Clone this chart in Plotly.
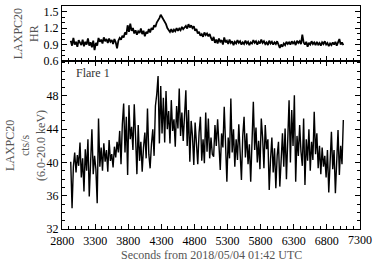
import numpy as np
import plotly.graph_objects as go

# time bins (s from 2018/05/04 01:42 UTC)
time_s = np.arange(2930, 7051, 20)

hardness_ratio = [
    0.97, 0.88, 1.02, 0.90, 0.95, 0.86, 0.98, 0.92, 0.89, 0.99, 0.87, 0.95, 0.90, 1.01, 0.88, 0.94,
    0.85, 0.97, 0.80, 0.93, 0.88, 1.02, 0.95, 0.99, 0.92, 1.03, 0.96, 1.00, 0.93, 1.01, 0.95, 0.98,
    0.91, 1.00, 0.94, 0.83,
    0.97, 1.02, 0.99, 1.06, 1.03, 1.12, 1.08, 1.25,
    1.13, 1.28, 1.15, 1.20, 1.10, 1.16, 1.08, 1.14, 1.11, 1.19, 1.09, 1.15, 1.05, 1.13, 1.10, 1.18,
    1.12, 1.20,
    1.17, 1.25, 1.22, 1.30, 1.33, 1.38, 1.44, 1.40,
    1.36, 1.31, 1.27, 1.20, 1.16, 1.13,
    1.18, 1.12, 1.17, 1.14, 1.20, 1.15, 1.19, 1.16, 1.22, 1.18, 1.21,
    1.24, 1.19, 1.27, 1.21, 1.25, 1.20, 1.23,
    1.15, 1.18, 1.10, 1.13, 1.06, 1.09, 1.04, 1.12, 1.07, 1.10,
    1.05, 1.09, 1.02,
    0.97, 1.04, 0.93, 0.99, 0.92, 1.01, 0.95, 0.98, 0.90, 1.03,
    0.94, 0.97, 0.91, 0.99, 0.93, 0.96, 0.89, 0.95, 0.92, 0.98,
    0.93, 0.96, 0.90, 0.94, 0.91, 0.97, 0.92, 0.95, 0.89, 0.94,
    0.92, 0.98, 0.93, 0.96, 0.90, 0.95, 0.92, 0.99, 0.93, 0.96,
    0.91, 0.94, 0.89, 0.97, 0.92, 0.95, 0.90, 0.94, 0.91, 0.96,
    0.88, 0.84, 0.90, 0.86, 0.92, 0.89, 0.95, 0.91, 0.94, 0.90,
    0.96, 0.92, 0.95, 0.89, 0.97, 0.93, 0.96, 0.91, 1.08, 0.94,
    0.90, 0.95, 0.86, 0.93, 0.90, 0.96, 0.91, 0.94, 0.89, 0.95,
    0.90, 0.93, 0.88, 0.94, 0.91, 0.96, 0.90, 0.93, 0.87, 0.92,
    0.89, 0.94, 0.90, 0.95, 0.88, 0.93, 1.00, 0.90, 0.94, 0.89,
]

count_rate = [
    40.1, 34.5, 39.5, 41.2, 38.8, 40.9, 39.6, 42.4, 38.2, 40.5, 36.5, 41.6, 39.0, 42.8, 35.9, 41.3,
    44.0, 38.6, 40.8, 39.2, 35.1, 45.3,
    39.5, 41.8, 39.0, 42.3, 40.1, 41.5, 38.9, 42.7, 40.2, 41.0, 39.4, 41.9, 40.6, 42.5, 41.2,
    43.8, 39.8, 44.6, 47.1, 41.2, 45.5, 38.5, 46.9, 42.8, 44.3, 41.5, 47.0, 43.1, 38.6, 44.5,
    40.2, 42.5, 38.9, 41.8, 43.6, 40.5, 46.5, 41.0, 39.3, 42.2, 44.0, 40.8, 46.8,
    48.2, 50.4, 42.3, 49.2, 43.5, 47.8,
    42.4, 48.6, 44.0, 46.2, 42.3, 47.5, 43.8, 45.2, 41.9, 46.8, 44.1, 48.9, 43.2, 46.0, 42.6, 45.5,
    48.7, 42.0, 46.3, 40.1, 45.0, 43.2, 39.7,
    44.8, 41.5, 39.8, 43.6, 45.5, 40.2, 42.8, 39.9, 46.0, 41.3, 45.3, 40.5, 43.0,
    41.0, 40.7, 44.5, 42.0, 45.2, 41.2, 39.1, 43.5, 41.8, 46.7, 41.5, 37.7, 43.0, 40.5, 47.7,
    41.2, 44.0, 39.5, 42.8, 40.3, 44.6, 41.0, 37.9, 43.2, 45.5, 40.6, 43.5, 39.8, 42.2, 37.7,
    43.8, 47.3, 41.5, 44.2, 40.0, 42.6, 39.2, 45.3, 43.0, 39.3, 44.5, 41.6, 42.8, 36.7, 40.4,
    43.0, 38.8, 41.7, 36.9, 40.8, 42.5, 37.1, 40.2, 43.5, 39.5, 44.1, 38.0, 42.3, 47.5, 40.0,
    46.3, 42.0, 48.1, 37.7, 43.2, 40.8, 44.5, 41.3, 39.6, 45.3, 37.3, 42.8, 40.2, 44.0, 39.0,
    42.5, 40.3, 46.1, 41.0, 43.5, 39.3, 42.0, 38.6, 41.8, 39.5, 40.8, 38.2, 41.5, 36.4, 40.0,
    43.7, 39.2, 41.5, 36.3, 40.6, 43.9, 38.5, 42.0, 39.8, 45.1,
]

x_ticks = [2800, 3300, 3800, 4300, 4800, 5300, 5800, 6300, 6800, 7300]
hr_ticks = [0.6, 0.9, 1.2, 1.5]
cr_ticks = [32, 36, 40, 44, 48]

FONT = "Liberation Serif"
TITLE_COLOR = "#555555"

fig = go.Figure()
fig.add_trace(go.Scatter(x=time_s, y=hardness_ratio, mode="lines",
                         line=dict(color="black", width=1.8), xaxis="x2", yaxis="y2",
                         showlegend=False))
fig.add_trace(go.Scatter(x=time_s, y=count_rate, mode="lines",
                         line=dict(color="black", width=1.4), xaxis="x", yaxis="y",
                         showlegend=False))

axis_common = dict(showgrid=False, zeroline=False, linecolor="black", linewidth=1.3,
                   ticks="inside", tickcolor="black", tickwidth=1.1,
                   ticklabeloverflow="allow",
                   tickfont=dict(family=FONT, size=12, color="black"))

# the last x tick label (at the right edge) is hidden by plotly, so draw it as text
edge_label = x_ticks[-1]

fig.update_layout(
    width=374, height=264,
    margin=dict(l=62, r=14, t=6, b=35),
    paper_bgcolor="white", plot_bgcolor="white",
    font=dict(family=FONT, color="black"),
    xaxis=dict(domain=[0, 1], range=[2798, 7302], tickvals=x_ticks,
               ticktext=[str(v) for v in x_ticks[:-1]] + [""], ticklen=5,
               mirror="ticks", anchor="y",
               minor=dict(dtick=100, tick0=2800, ticklen=3, ticks="inside", tickcolor="black"),
               **axis_common),
    yaxis=dict(domain=[0, 0.753], range=[32, 52.2], tickvals=cr_ticks, ticklen=5,
               mirror="ticks", anchor="x",
               minor=dict(dtick=1, tick0=32, ticklen=3, ticks="inside", tickcolor="black"),
               **axis_common),
    xaxis2=dict(domain=[0, 1], range=[2798, 7302], tickvals=x_ticks, ticklen=5,
                mirror=True, anchor="y2", showticklabels=False,
                minor=dict(dtick=100, tick0=2800, ticklen=3, ticks="inside", tickcolor="black"),
                **axis_common),
    yaxis2=dict(domain=[0.753, 1], range=[0.6, 1.6], tickvals=hr_ticks,
                ticktext=["0.6", "0.9", "1.2", "1.5"], ticklen=5,
                mirror="ticks", anchor="x2",
                minor=dict(dtick=0.1, tick0=0.6, ticklen=3, ticks="inside", tickcolor="black"),
                **axis_common),
    annotations=[
        dict(text=str(edge_label), xref="x", yref="paper", x=edge_label, y=0,
             xanchor="center", yanchor="top", yshift=-2, showarrow=False,
             font=dict(family=FONT, size=12, color="black")),
        dict(text="LAXPC20<br>HR", xref="paper", yref="paper", x=-0.118, y=0.877,
             xanchor="center", yanchor="middle", textangle=-90, showarrow=False,
             font=dict(family=FONT, size=12, color=TITLE_COLOR)),
        dict(text="LAXPC20<br>cts/s<br>(6.0-20.0 keV)", xref="paper", yref="paper",
             x=-0.125, y=0.376, xanchor="center", yanchor="middle", textangle=-90,
             showarrow=False, font=dict(family=FONT, size=12, color=TITLE_COLOR)),
        dict(text="Flare 1", xref="paper", yref="paper", x=0.04, y=0.70,
             xanchor="left", yanchor="middle", showarrow=False,
             font=dict(family=FONT, size=12, color="#333333")),
        dict(text="Seconds from 2018/05/04 01:42 UTC", xref="paper", yref="paper",
             x=0.5, y=-0.078, xanchor="center", yanchor="top", showarrow=False,
             font=dict(family=FONT, size=12, color=TITLE_COLOR)),
    ],
)

fig.write_html("out.html", config={"displayModeBar": False},
               post_script="document.body.style.margin='0px';"
                           "document.body.style.overflow='hidden';"
                           "document.documentElement.style.overflow='hidden';")
